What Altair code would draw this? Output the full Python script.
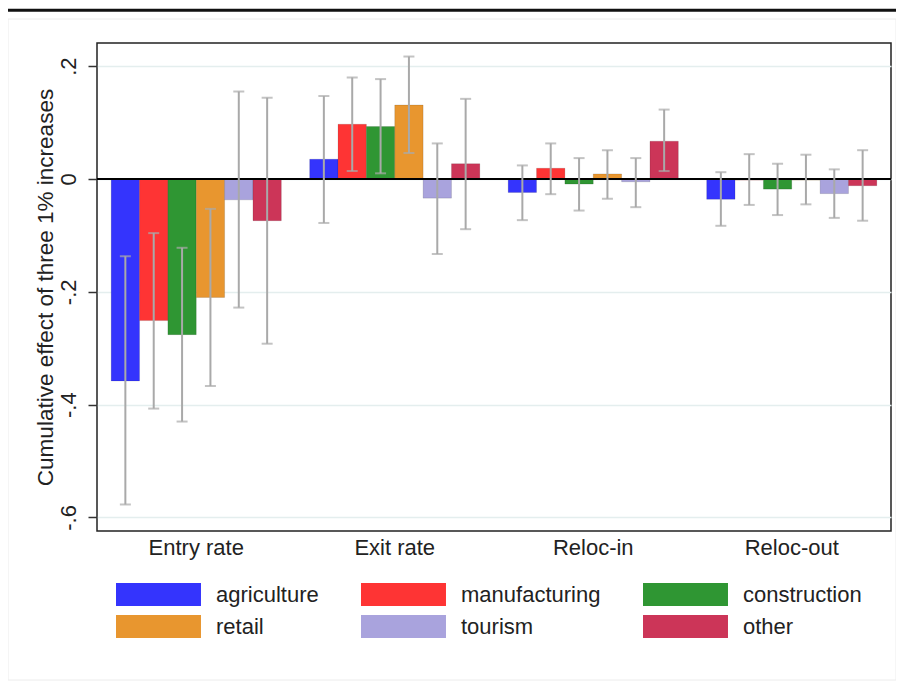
import altair as alt
import pandas as pd

outcomes = ["Entry rate", "Exit rate", "Reloc-in", "Reloc-out"]
industries = ["agriculture", "manufacturing", "construction", "retail", "tourism", "other"]
colors = ["#3434fd", "#fe3434", "#2f9633", "#e8962f", "#a9a3dd", "#cc3558"]

# point estimates, one list per outcome (industries in order above)
effect_entry = [-0.358, -0.251, -0.276, -0.210, -0.037, -0.074]
effect_exit = [0.035, 0.097, 0.093, 0.131, -0.034, 0.027]
effect_relin = [-0.024, 0.019, -0.009, 0.009, -0.005, 0.067]
effect_relout = [-0.036, -0.002, -0.018, -0.002, -0.026, -0.012]

ci_low_entry = [-0.577, -0.407, -0.430, -0.367, -0.228, -0.292]
ci_low_exit = [-0.078, 0.014, 0.010, 0.046, -0.133, -0.089]
ci_low_relin = [-0.073, -0.027, -0.056, -0.035, -0.050, 0.014]
ci_low_relout = [-0.083, -0.046, -0.064, -0.045, -0.069, -0.074]

ci_high_entry = [-0.137, -0.096, -0.122, -0.053, 0.155, 0.144]
ci_high_exit = [0.147, 0.180, 0.177, 0.217, 0.063, 0.142]
ci_high_relin = [0.024, 0.063, 0.037, 0.051, 0.037, 0.123]
ci_high_relout = [0.012, 0.044, 0.027, 0.043, 0.017, 0.051]

y_ticks = [0.2, 0, -0.2, -0.4, -0.6]

effects = [effect_entry, effect_exit, effect_relin, effect_relout]
lows = [ci_low_entry, ci_low_exit, ci_low_relin, ci_low_relout]
highs = [ci_high_entry, ci_high_exit, ci_high_relin, ci_high_relout]

rows = []
for o, e, lo, hi in zip(outcomes, effects, lows, highs):
    for i, ind in enumerate(industries):
        rows.append({"outcome": o, "industry": ind, "effect": e[i], "lo": lo[i], "hi": hi[i]})
df = pd.DataFrame(rows)

FONT = "Liberation Sans"
TXT = "#222222"

x_enc = alt.X("outcome:N", sort=outcomes,
              scale=alt.Scale(paddingInner=0, paddingOuter=0),
              axis=alt.Axis(title=None, labelAngle=0, labelFontSize=22, labelColor=TXT,
                            labelFont=FONT, ticks=False, domain=False, grid=False,
                            labelPadding=6))
xo_enc = alt.XOffset("industry:N", sort=industries,
                     scale=alt.Scale(paddingInner=0, paddingOuter=0.5))
y_scale = alt.Scale(domain=[-0.624, 0.241], nice=False, zero=False)

label_expr = ("abs(datum.value) < 1e-9 ? '0' : "
              "(datum.value < 0 ? '-' : '') + replace(format(abs(datum.value), '.1f'), '0.', '.')")

y_axis = alt.Axis(title="Cumulative effect of three 1% increases", values=y_ticks,
                  labelExpr=label_expr, labelAngle=270, labelAlign="center",
                  labelBaseline="bottom", labelFontSize=22, labelFont=FONT,
                  labelColor=TXT, labelPadding=8, tickSize=9, tickColor="#333333",
                  tickWidth=1.5, domain=False, grid=True, gridColor="#e4eeee",
                  gridWidth=1.5, titleFontSize=22.5, titleFont=FONT,
                  titleFontWeight="normal", titleColor=TXT, titlePadding=0)

legend_path = "M-1,-1L6.39,-1L6.39,1L-1,1Z"

bars = alt.Chart(df).mark_bar(stroke="#000000", strokeOpacity=0.12, strokeWidth=1).encode(
    x=x_enc,
    xOffset=xo_enc,
    y=alt.Y("effect:Q", scale=y_scale, axis=y_axis),
    y2=alt.datum(0),
    color=alt.Color("industry:N", sort=industries,
                    scale=alt.Scale(domain=industries, range=colors),
                    legend=alt.Legend(title=None, orient="none", legendX=19, legendY=540,
                                      columns=3, direction="horizontal",
                                      symbolType=legend_path, symbolSize=529,
                                      symbolStrokeWidth=0, labelOffset=77,
                                      columnPadding=42, rowPadding=9,
                                      labelFontSize=22, labelFont=FONT,
                                      labelColor=TXT, padding=0)),
)

zero_line = alt.Chart(pd.DataFrame({"z": [0]})).mark_rule(color="#000000", strokeWidth=2).encode(
    y=alt.Y("z:Q", scale=y_scale)
)

err = alt.Chart(df).mark_rule(color="#a9a9a9", strokeWidth=2).encode(
    x=alt.X("outcome:N", sort=outcomes),
    xOffset=alt.XOffset("industry:N", sort=industries),
    y=alt.Y("lo:Q", scale=y_scale),
    y2="hi:Q",
)
cap_lo = alt.Chart(df).mark_tick(color="#a9a9a9", size=11, thickness=2, orient="horizontal").encode(
    x=alt.X("outcome:N", sort=outcomes),
    xOffset=alt.XOffset("industry:N", sort=industries),
    y=alt.Y("lo:Q", scale=y_scale),
)
cap_hi = alt.Chart(df).mark_tick(color="#a9a9a9", size=11, thickness=2, orient="horizontal").encode(
    x=alt.X("outcome:N", sort=outcomes),
    xOffset=alt.XOffset("industry:N", sort=industries),
    y=alt.Y("hi:Q", scale=y_scale),
)

one = pd.DataFrame({"k": [0]})
top_line = alt.Chart(one).mark_rule(color="#111111", strokeWidth=3).encode(
    x=alt.value(-89), x2=alt.value(799), y=alt.value(-32.7)
)
frame_box = alt.Chart(one).mark_rect(fill=None, stroke="#ececec", strokeWidth=1).encode(
    x=alt.value(-89), x2=alt.value(799), y=alt.value(-24), y2=alt.value(637)
)

chart = alt.layer(frame_box, top_line, bars, zero_line, err, cap_lo, cap_hi).resolve_scale(
    y="shared"
).properties(
    width=794, height=488,
    padding={"left": 89, "top": 35, "right": 5, "bottom": 152},
    autosize=alt.AutoSizeParams(type="none"),
    background="white",
).configure_view(stroke="#222222", strokeWidth=1.5)

chart.save("out.html", embed_options={"renderer": "svg", "actions": False})
